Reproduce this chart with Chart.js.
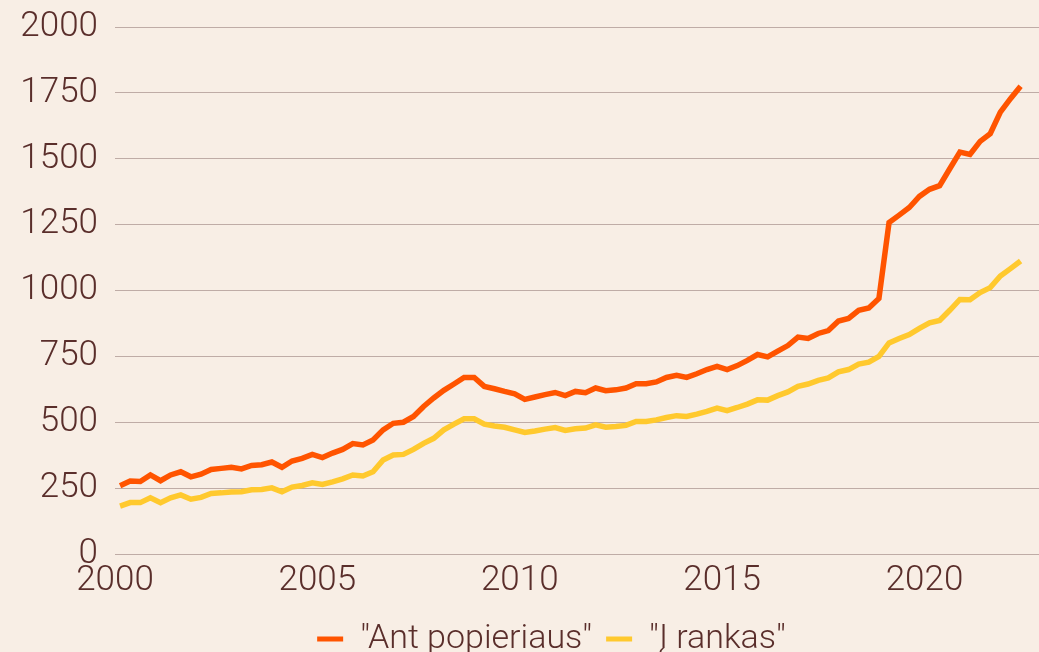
<!DOCTYPE html>
<html>
<head>
<meta charset="utf-8">
<script src="https://cdn.jsdelivr.net/npm/chart.js@4/dist/chart.umd.min.js"></script>
<style>
  html, body { margin: 0; padding: 0; width: 1039px; height: 652px; overflow: hidden; background: #f8eee5; }
  canvas { display: block; }
</style>
</head>
<body>
<canvas id="myChart" width="1039" height="666"></canvas>
<script>
// quarterly values, 2000 Q1 .. 2022 Q2
const firstYear = 2000;
const seriesNames = ['"Ant popieriaus"', '"Į rankas"'];
const popieriaus = [
  259, 277, 275, 300, 278, 300, 312, 293, 303, 321, 325, 329,
  323, 336, 339, 349, 329, 353, 363, 378, 366, 383, 397, 419,
  414, 433, 471, 496, 500, 522, 560, 592, 621, 645, 670, 670,
  636, 627, 617, 608, 587, 596, 605, 613, 601, 617, 612, 630,
  620, 623, 630, 646, 646, 653, 670, 678, 670, 684, 700, 712,
  700, 715, 735, 757, 748, 770, 791, 823, 818, 837, 848, 884,
  894, 925, 934, 970, 1258, 1286, 1315, 1357, 1384, 1398, 1462, 1525,
  1516, 1566, 1595, 1677, 1728, 1775
];
const rankas = [
  182, 195, 195, 213, 195, 213, 224, 208, 215, 230, 232, 235,
  236, 244, 245, 251, 236, 254, 260, 270, 264, 274, 285, 300,
  296, 312, 357, 376, 378, 397, 420, 439, 471, 493, 513, 513,
  493, 486, 481, 471, 461, 467, 474, 480, 469, 475, 478, 490,
  481, 484, 488, 503, 503, 509, 518, 525, 522, 531, 541, 554,
  544, 556, 569, 585, 584, 601, 615, 636, 645, 659, 668, 691,
  700, 721, 728, 750, 801, 818, 833, 856, 877, 886, 925, 966,
  965, 992, 1011, 1055, 1083, 1112
];
const xTickYears = [2000, 2005, 2010, 2015, 2020];
const yTickValues = [0, 250, 500, 750, 1000, 1250, 1500, 1750, 2000];

// mid-quarter position in years
const periods = popieriaus.map((v, i) => firstYear + Math.floor(i / 4) + ((i % 4) + 0.5) / 4);

const textColor = '#5a2e2b';
const gridColor = '#bfaca6';
const tickFont = { family: 'Roboto', size: 35, weight: 300 };
const yTickFont = { family: 'Roboto', size: 35, weight: 300, lineHeight: 0.5 };
const legendFont = { family: 'Roboto', size: 34, weight: 300 };

const toPoints = (values) => values.map((v, i) => ({ x: periods[i], y: v }));

// nudge the legend to the right, like the original layout
const legendShift = {
  id: 'legendShift',
  afterLayout(chart) {
    chart.legend.left += 32;
    chart.legend.right += 32;
  }
};

const data = {
  datasets: [
    { label: seriesNames[0], data: toPoints(popieriaus), borderColor: '#ff5400', backgroundColor: '#ff5400' },
    { label: seriesNames[1], data: toPoints(rankas), borderColor: '#ffc92e', backgroundColor: '#ffc92e' }
  ]
};

const config = {
  type: 'line',
  data,
  options: {
    responsive: false,
    animation: false,
    layout: { padding: { top: 27, left: 0, right: 0, bottom: 0 } },
    elements: {
      line: { borderWidth: 5.5, tension: 0, borderJoinStyle: 'miter' },
      point: { radius: 0 }
    },
    scales: {
      x: {
        type: 'linear',
        min: 2000,
        max: 2022.83,
        grid: { display: false, drawTicks: false },
        border: { display: false },
        afterBuildTicks: (scale) => { scale.ticks = xTickYears.map(v => ({ value: v })); },
        afterFit: (scale) => { scale.height = 54; },
        ticks: { color: textColor, font: tickFont, padding: 6, maxRotation: 0, callback: (v) => String(v) }
      },
      y: {
        min: 0,
        max: 2000,
        grid: { color: gridColor, lineWidth: 1, drawTicks: false },
        border: { display: false },
        afterBuildTicks: (scale) => { scale.ticks = yTickValues.map(v => ({ value: v })); },
        afterFit: (scale) => { scale.width = 115; },
        ticks: { color: textColor, font: yTickFont, padding: 17, callback: (v) => String(v) }
      }
    },
    plugins: {
      tooltip: { enabled: false },
      legend: {
        position: 'bottom',
        labels: {
          color: textColor,
          font: legendFont,
          boxWidth: 26,
          boxHeight: 5,
          padding: 14,
          generateLabels: (chart) => {
            const items = Chart.defaults.plugins.legend.labels.generateLabels(chart);
            items.forEach(it => { it.fillStyle = it.strokeStyle; it.lineWidth = 0; });
            return items;
          }
        }
      }
    }
  },
  plugins: [legendShift]
};

new Chart(document.getElementById('myChart'), config);
</script>
</body>
</html>
